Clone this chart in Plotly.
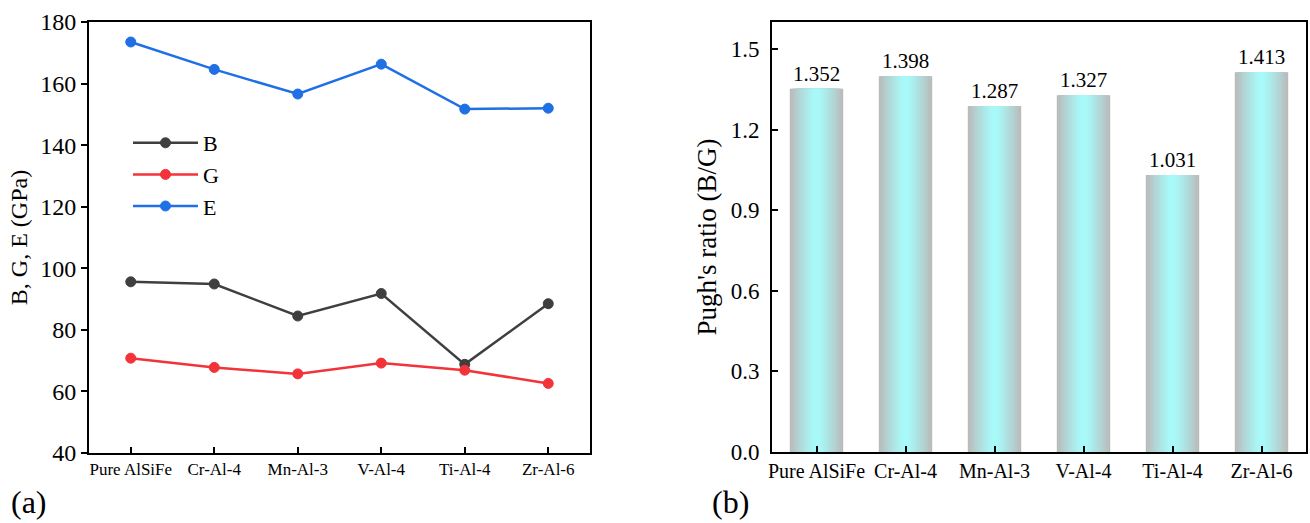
import plotly.graph_objects as go

categories = ["Pure AlSiFe", "Cr-Al-4", "Mn-Al-3", "V-Al-4", "Ti-Al-4", "Zr-Al-6"]
B_vals = [95.6, 94.9, 84.5, 91.8, 68.8, 88.5]
G_vals = [70.8, 67.8, 65.7, 69.2, 66.9, 62.6]
E_vals = [173.5, 164.6, 156.6, 166.3, 151.7, 152.0]
pugh_vals = [1.352, 1.398, 1.287, 1.327, 1.031, 1.413]

FONT = "Liberation Serif"
fig = go.Figure()

series = [("B", B_vals, "#3f3f3f"), ("G", G_vals, "#f2333a"), ("E", E_vals, "#1f6fe5")]
for name, vals, col in series:
    fig.add_trace(go.Scatter(
        x=categories, y=vals, name=name, mode="lines+markers",
        line=dict(color=col, width=2.5),
        marker=dict(size=10, color=col, line=dict(color=col, width=1)),
        xaxis="x", yaxis="y"))

# gradient bars: overlay of narrowing bars
N = 18
gray = (186, 186, 186)
cyan = (168, 252, 252)
for i in range(N):
    d = 1 - i / N
    f = d ** 1.3
    c = tuple(int(round(cyan[k] + (gray[k] - cyan[k]) * f)) for k in range(3))
    fig.add_trace(go.Bar(
        x=categories, y=pugh_vals, width=0.6 * d,
        marker=dict(color="rgb(%d,%d,%d)" % c, line=dict(width=0)),
        text=["%.3f" % v for v in pugh_vals] if i == 0 else None,
        textposition="outside" if i == 0 else None,
        textfont=dict(family=FONT, size=21, color="black"),
        cliponaxis=False, showlegend=False,
        xaxis="x2", yaxis="y2"))

axis_common = dict(showline=True, linecolor="black", linewidth=2, mirror=True,
                   showgrid=False, zeroline=False, tickcolor="black", tickwidth=2,
                   automargin=False)

fig.update_layout(
    width=1310, height=523,
    margin=dict(l=0, r=0, t=0, b=0, pad=0),
    paper_bgcolor="white", plot_bgcolor="white",
    barmode="overlay",
    font=dict(family=FONT, color="black"),
    xaxis=dict(domain=[89 / 1310, 590 / 1310], anchor="y", range=[-0.5, 5.5],
               ticks="inside", ticklen=6, tickfont=dict(size=17, family=FONT),
               **axis_common),
    yaxis=dict(domain=[1 - 453 / 523, 1 - 22 / 523], anchor="x", range=[40, 180],
               dtick=20, ticks="outside", ticklen=6, tickfont=dict(size=24, family=FONT),
               title=dict(text="B, G, E (GPa)", font=dict(size=24, family=FONT), standoff=6),
               **axis_common),
    xaxis2=dict(domain=[772 / 1310, 1306 / 1310], anchor="y2", range=[-0.5, 5.5],
                ticks="inside", ticklen=6, tickfont=dict(size=20, family=FONT),
                **axis_common),
    yaxis2=dict(domain=[1 - 452 / 523, 1 - 22 / 523], anchor="x2", range=[0, 1.6],
                tickvals=[0, 0.3, 0.6, 0.9, 1.2, 1.5],
                ticktext=["0.0", "0.3", "0.6", "0.9", "1.2", "1.5"],
                ticks="inside", ticklen=6, tickfont=dict(size=23, family=FONT),
                ticklabelstandoff=6,
                title=dict(text="Pugh's ratio (B/G)", font=dict(size=27, family=FONT), standoff=6),
                **axis_common),
    legend=dict(x=128 / 1310, y=1 - 122 / 523, xanchor="left", yanchor="top",
                bgcolor="rgba(0,0,0,0)", font=dict(size=22, family=FONT),
                tracegroupgap=0, itemwidth=65),
    annotations=[
        dict(text="(a)", x=9 / 1310, y=1 - 522 / 523, xref="paper", yref="paper",
             xanchor="left", yanchor="bottom", showarrow=False,
             font=dict(size=32, family=FONT)),
        dict(text="(b)", x=710 / 1310, y=1 - 522 / 523, xref="paper", yref="paper",
             xanchor="left", yanchor="bottom", showarrow=False,
             font=dict(size=32, family=FONT)),
    ],
)

fig.write_html("out.html")
